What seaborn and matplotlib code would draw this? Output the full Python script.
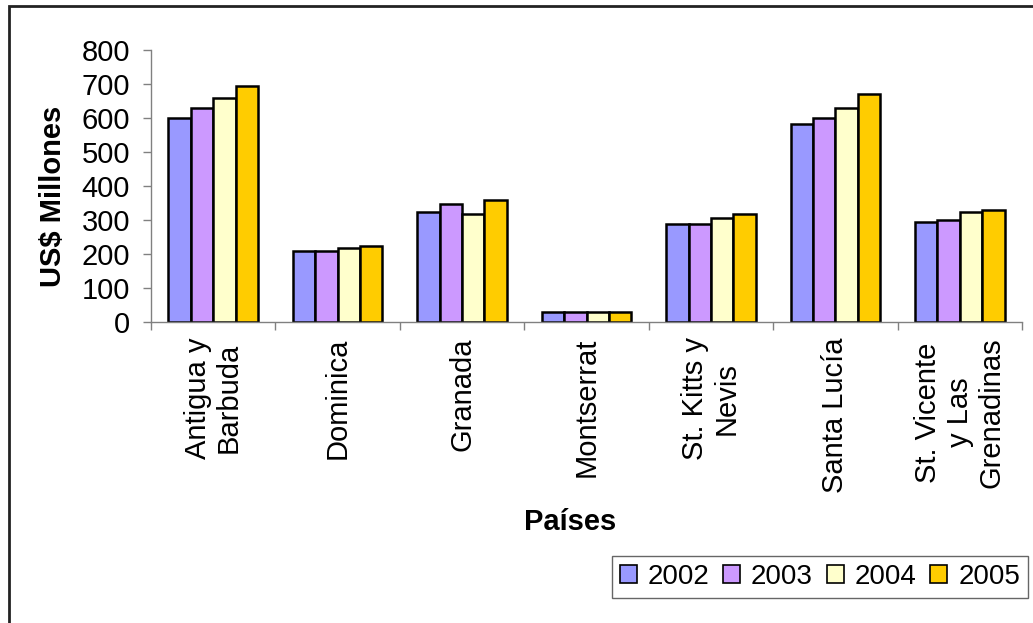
import pandas as pd
import seaborn as sns
import matplotlib.pyplot as plt
from matplotlib.patches import Patch, Rectangle

# datos (US$ millones)
paises = ["Antigua y\nBarbuda", "Dominica", "Granada", "Montserrat",
          "St. Kitts y\nNevis", "Santa Lucía", "St. Vicente\ny Las\nGrenadinas"]
anios = ["2002", "2003", "2004", "2005"]
v2002 = [600, 210, 323, 28, 289, 583, 294]
v2003 = [630, 210, 346, 28, 289, 600, 299]
v2004 = [660, 217, 318, 28, 305, 629, 323]
v2005 = [695, 223, 358, 28, 318, 670, 329]
colores = ["#9999FF", "#CC99FF", "#FFFFCC", "#FFCC00"]

filas = []
for anio, vals in zip(anios, [v2002, v2003, v2004, v2005]):
    for p, v in zip(paises, vals):
        filas.append({"pais": p, "anio": anio, "valor": v})
df = pd.DataFrame(filas)

sns.set_style("white")
plt.rcParams['font.family'] = ['Liberation Sans', 'DejaVu Sans']
plt.rcParams['text.color'] = 'black'
plt.rcParams['axes.labelcolor'] = 'black'
plt.rcParams['xtick.labelcolor'] = 'black'
plt.rcParams['ytick.labelcolor'] = 'black'

fig = plt.figure(figsize=(10.33, 6.23), dpi=100)
ax = fig.add_axes([151 / 1033, 1 - 322 / 623, 871 / 1033, 272 / 623])

sns.barplot(data=df, x="pais", y="valor", hue="anio", palette=colores,
            saturation=1, edgecolor="black", linewidth=1.8, width=0.72, gap=0,
            errorbar=None, legend=False, ax=ax)

ax.set_xlim(-0.5, len(paises) - 0.5)
ax.set_ylim(0, 800)
ax.set_yticks(range(0, 801, 100))
ax.tick_params(axis="y", labelsize=21, length=6, width=1, color="#808080",
               labelcolor="black", direction="out", pad=9, left=True)
ax.set_xticks(range(len(paises)))
ax.set_xticklabels(paises, rotation=90, fontsize=21, multialignment="center",
                   linespacing=1.15, color="black")
ax.set_xticks([i - 0.5 for i in range(len(paises) + 1)], minor=True)
ax.tick_params(axis="x", which="major", length=0, pad=11)
ax.tick_params(axis="x", which="minor", length=6, width=1, color="#808080",
               direction="out", bottom=True)

for s in ["top", "right"]:
    ax.spines[s].set_visible(False)
for s in ["left", "bottom"]:
    ax.spines[s].set_color("#808080")
    ax.spines[s].set_linewidth(1)

ax.set_ylabel("US$ Millones", fontsize=21, fontweight="bold", color="black")
ax.yaxis.set_label_coords(-0.096, 0.463)
ax.set_xlabel("Países", fontsize=21, fontweight="bold", color="black")
ax.xaxis.set_label_coords(0.481, -0.685)

handles = [Patch(facecolor=c, edgecolor="black", linewidth=1.2) for c in colores]
leg = fig.legend(handles, anios, loc="center", bbox_to_anchor=(820 / 1033, 46 / 623),
                 ncol=4, fontsize=20, frameon=True, fancybox=False,
                 handlelength=0.6, handleheight=0.6, handletextpad=0.4,
                 columnspacing=0.5, borderpad=0.3, borderaxespad=0,
                 labelcolor="black")
leg.get_frame().set_edgecolor("#404040")
leg.get_frame().set_linewidth(1)

# marco del area del grafico (solo se ven borde izquierdo y superior)
fig.add_artist(Rectangle((8.5 / 1033, -0.1), 1.2, 1.1 - 6 / 623,
                         transform=fig.transFigure, fill=False,
                         edgecolor="#222222", linewidth=2))

fig.savefig("out.png", dpi=100)
